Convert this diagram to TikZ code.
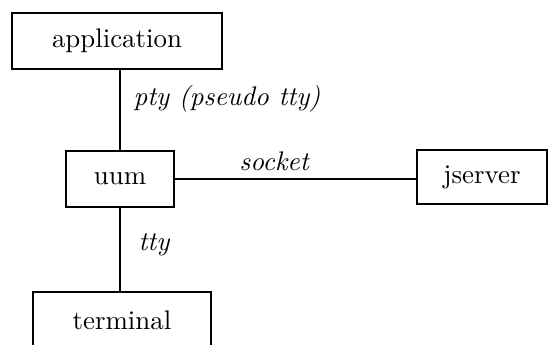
\documentclass[tikz,border=0pt]{standalone}
\begin{document}
\begin{tikzpicture}[x=0.372pt,y=-0.372pt,
  box/.style={draw,line width=0.6pt,rectangle,inner sep=0pt},
  conn/.style={line width=0.6pt},
  lbl/.style={font=\itshape,inner sep=0pt}]
\useasboundingbox (0,0) rectangle (549,344);
\fill[white] (0,0) rectangle (549,344);
\node[box,minimum width=210*0.372pt,minimum height=56*0.372pt] (app) at (117,41) {application};
\node[box,minimum width=108*0.372pt,minimum height=56*0.372pt] (uum) at (120,179) {uum};
\node[box,minimum width=130*0.372pt,minimum height=54*0.372pt] (js) at (482,177) {jserver};
\node[box,minimum width=178*0.372pt,minimum height=56*0.372pt] (term) at (122,320) {terminal};
\draw[conn] (uum.north) -- (uum.north |- app.south);
\draw[conn] (uum.south) -- (uum.south |- term.north);
\draw[conn] (uum.east) -- (js.west |- uum.east);
\node[lbl,anchor=west] (l1) at (133,99) {pty (pseudo tty)};
\node[lbl] (l2) at (274,161) {socket};
\node[lbl,anchor=west] (l3) at (138,245) {tty};
\end{tikzpicture}
\end{document}
